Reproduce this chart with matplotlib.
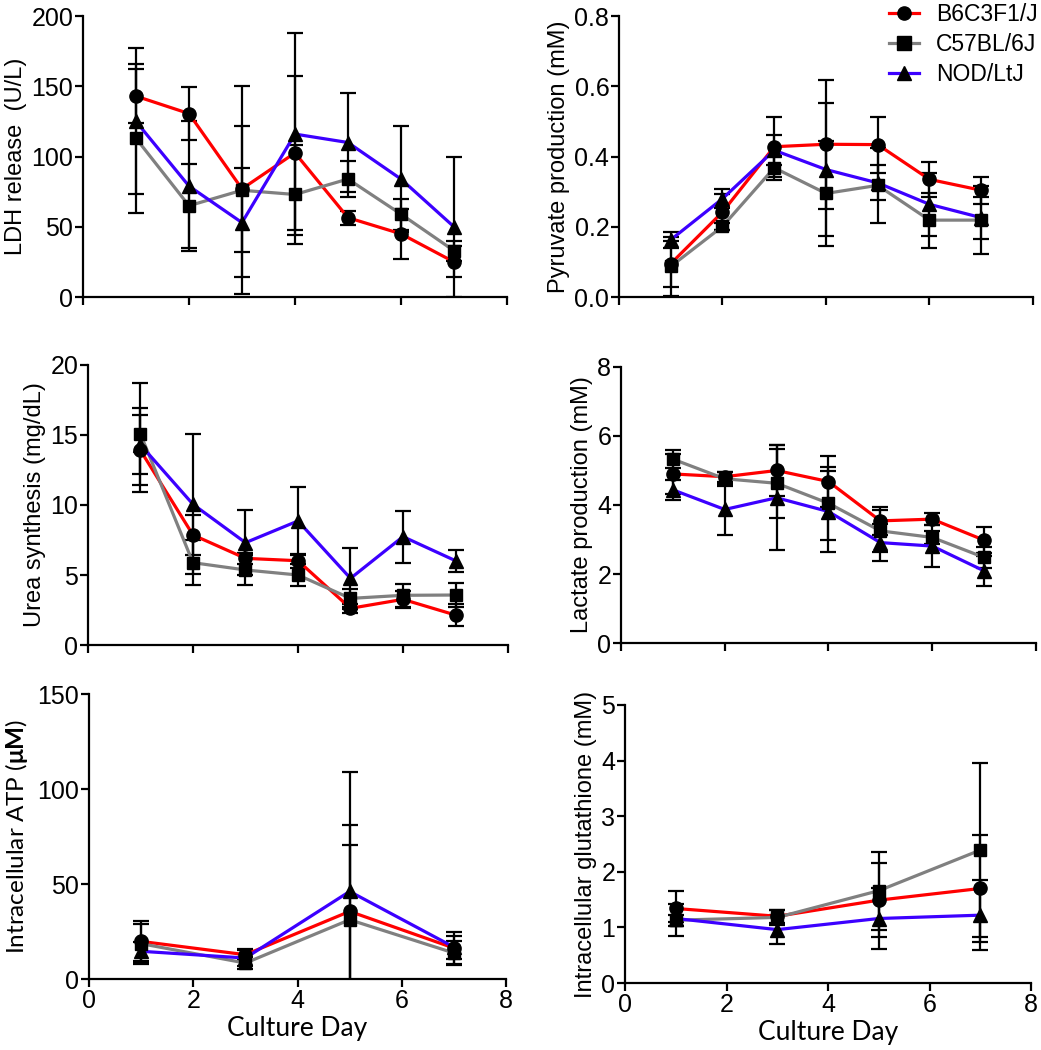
import matplotlib
matplotlib.use("Agg")
import matplotlib.pyplot as plt
from matplotlib.lines import Line2D

plt.rcParams["font.family"] = ["Liberation Sans", "DejaVu Sans"]
plt.rcParams["mathtext.fontset"] = "custom"
plt.rcParams["mathtext.rm"] = "Lato"
plt.rcParams["mathtext.bf"] = "Lato:bold"

STRAINS = ["B6C3F1/J", "C57BL/6J", "NOD/LtJ"]
COLORS = ["#ff0000", "#808080", "#3c00ff"]
MARKERS = ["o", "s", "^"]

DAYS_DAILY = [1, 2, 3, 4, 5, 6, 7]
DAYS_ALT = [1, 3, 5, 7]

# LDH release (U/L)
ldh_mean = [
    [143, 130.6, 77, 102.6, 56.5, 45, 25],
    [113, 65, 76, 73, 84, 59, 33],
    [125, 79, 53, 116, 110, 84, 50],
]
ldh_err = [
    [19, 19, 45, 55, 5, 18, 11],
    [53, 30, 74, 35, 13, 11, 7],
    [52, 46, 39, 72, 35, 38, 50],
]

# Pyruvate production (mM)
pyr_mean = [
    [0.095, 0.242, 0.428, 0.435, 0.434, 0.335, 0.304],
    [0.087, 0.201, 0.368, 0.295, 0.318, 0.219, 0.219],
    [0.163, 0.280, 0.418, 0.363, 0.325, 0.264, 0.226],
]
pyr_err = [
    [0.065, 0.05, 0.085, 0.183, 0.08, 0.05, 0.038],
    [0.085, 0.01, 0.035, 0.15, 0.107, 0.078, 0.097],
    [0.022, 0.027, 0.043, 0.19, 0.05, 0.09, 0.06],
]

# Urea synthesis (mg/dL)
urea_mean = [
    [13.9, 7.86, 6.19, 6.02, 2.62, 3.26, 2.14],
    [15.07, 5.88, 5.36, 5.0, 3.33, 3.55, 3.57],
    [14.3, 10.05, 7.31, 8.86, 4.76, 7.74, 6.02],
]
urea_err = [
    [3.0, 1.4, 0.4, 0.5, 0.3, 0.6, 0.78],
    [3.67, 1.6, 1.07, 0.8, 0.65, 0.8, 0.85],
    [2.1, 5.0, 2.3, 2.45, 2.2, 1.86, 0.77],
]

# Lactate production (mM)
lac_mean = [
    [4.9, 4.82, 5.0, 4.68, 3.54, 3.59, 2.98],
    [5.33, 4.76, 4.63, 4.05, 3.25, 3.06, 2.48],
    [4.44, 3.87, 4.21, 3.81, 2.91, 2.81, 2.09],
]
lac_err = [
    [0.58, 0.15, 0.74, 0.75, 0.4, 0.17, 0.37],
    [0.25, 0.2, 1.0, 1.05, 0.6, 0.2, 0.3],
    [0.29, 0.74, 1.52, 1.17, 0.53, 0.62, 0.44],
]

# Intracellular ATP (uM)
atp_mean = [
    [19.8, 12.8, 35.6, 16.3],
    [18.6, 8.4, 31.2, 13.7],
    [14.6, 11.05, 46.1, 16.8],
]
atp_err = [
    [11, 3, 45.6, 8.3],
    [10.5, 3, 39.5, 6.5],
    [5, 4, 63, 6],
]

# Intracellular glutathione (mM)
gsh_mean = [
    [1.34, 1.2, 1.49, 1.7],
    [1.13, 1.18, 1.66, 2.39],
    [1.16, 0.96, 1.16, 1.22],
]
gsh_err = [
    [0.32, 0.12, 0.66, 0.96],
    [0.29, 0.14, 0.7, 1.56],
    [0.06, 0.26, 0.54, 0.63],
]

fig = plt.figure(figsize=(10.41, 10.5), dpi=100)

panels = [
    # rect, x, means, errs, ylim, yticks, ylabel, tick format
    ([0.0797, 0.7171, 0.4073, 0.2676], DAYS_DAILY, ldh_mean, ldh_err,
     200, [0, 50, 100, 150, 200], "LDH release  (U/L)", "{:.0f}"),
    ([0.5946, 0.7171, 0.3977, 0.2676], DAYS_DAILY, pyr_mean, pyr_err,
     0.8, [0, 0.2, 0.4, 0.6, 0.8], "Pyruvate production (mM)", "{:.1f}"),
    ([0.0845, 0.3857, 0.4035, 0.2667], DAYS_DAILY, urea_mean, urea_err,
     20, [0, 5, 10, 15, 20], "Urea synthesis (mg/dL)", "{:.0f}"),
    ([0.5965, 0.3876, 0.3987, 0.2629], DAYS_DAILY, lac_mean, lac_err,
     8, [0, 2, 4, 6, 8], "Lactate production (mM)", "{:.0f}"),
    ([0.0855, 0.0676, 0.4006, 0.2714], DAYS_ALT, atp_mean, atp_err,
     150, [0, 50, 100, 150], "Intracellular ATP ($\\mathbf{\\mu M}$)", "{:.0f}"),
    ([0.6004, 0.0638, 0.3900, 0.2648], DAYS_ALT, gsh_mean, gsh_err,
     5, [0, 1, 2, 3, 4, 5], "Intracellular glutathione (mM)", "{:.0f}"),
]

for i, (rect, x, means, errs, ymax, yticks, ylabel, fmt) in enumerate(panels):
    ax = fig.add_axes(rect)
    # error bars stay clipped at the axis, like the original
    for k in range(3):
        ax.errorbar(x, means[k], yerr=errs[k], fmt="none", ecolor="black",
                    elinewidth=1.6, capsize=5.5, capthick=1.6, zorder=2)
    for k in range(3):
        ax.plot(x, means[k], color=COLORS[k], lw=2.3, zorder=3,
                solid_joinstyle="round", clip_on=False)
    for k in range(3):
        ms = 9.5 if MARKERS[k] != "s" else 9
        ax.plot(x, means[k], linestyle="none", marker=MARKERS[k],
                color="black", markersize=ms, zorder=4, clip_on=False)

    ax.set_xlim(0, 8)
    ax.set_ylim(0, ymax)
    ax.set_xticks([0, 2, 4, 6, 8])
    ax.set_yticks(yticks)
    ax.set_yticklabels([fmt.format(v) for v in yticks])
    for s in ["top", "right"]:
        ax.spines[s].set_visible(False)
    for s in ["left", "bottom"]:
        ax.spines[s].set_linewidth(1.6)
    ax.tick_params(width=1.6, length=6, labelsize=18, direction="out", pad=1)

    if i < 4:
        ax.tick_params(axis="x", labelbottom=False)
    else:
        ax.set_xlabel("Culture Day", fontsize=19, family=["Lato", "DejaVu Sans"],
                      labelpad=2)

    if i == 4:
        ax.set_ylabel(ylabel, fontsize=17.5, family=["Lato", "DejaVu Sans"],
                      labelpad=5)
    else:
        ax.set_ylabel(ylabel, fontsize=17, labelpad=3)

handles = [
    Line2D([], [], color=COLORS[k], lw=2.3, marker=MARKERS[k],
           markerfacecolor="black", markeredgecolor="black", markersize=9.5)
    for k in range(3)
]
fig.legend(handles, STRAINS, loc="upper right",
           bbox_to_anchor=(1038 / 1041, 1 - 3 / 1050),
           frameon=False, fontsize=16.5, handlelength=1.3, handletextpad=0.75,
           labelspacing=0.3, borderpad=0, borderaxespad=0)

fig.savefig("out.png", dpi=100)
